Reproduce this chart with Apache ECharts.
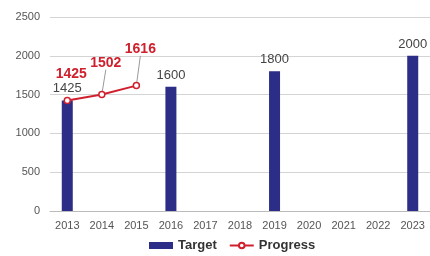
<!DOCTYPE html>
<html>
<head>
<meta charset="utf-8">
<script src="https://cdn.jsdelivr.net/npm/echarts@6/dist/echarts.min.js"></script>
<style>
  html, body { margin: 0; padding: 0; background: #fff; }
  #chart { width: 430px; height: 256px; }
</style>
</head>
<body>
<div id="chart"></div>
<script>
// chart data
var years = ['2013', '2014', '2015', '2016', '2017', '2018', '2019', '2020', '2021', '2022', '2023'];
var target = [1425, null, null, 1600, null, null, 1800, null, null, null, 2000];
var progress = [1425, 1502, 1616, null, null, null, null, null, null, null, null];

var chart = echarts.init(document.getElementById('chart'));

// label offsets for the red progress numbers
var progressShift = [[4, -11], [4, -16], [4, -21]];

chart.setOption({
    animation: false,
    textStyle: { fontFamily: 'Liberation Sans, Arial, sans-serif' },
    grid: { left: 50, right: -2, top: 17, bottom: 45 },
    legend: {
        bottom: -1,
        left: 144,
        itemGap: 12,
        itemWidth: 24,
        itemHeight: 7,
        textStyle: { fontSize: 13, fontWeight: 'bold', color: '#333' },
        data: [
            { name: 'Target', icon: 'rect' },
            { name: 'Progress' }
        ]
    },
    xAxis: {
        type: 'category',
        data: years,
        axisTick: { show: false },
        axisLine: { lineStyle: { color: '#bbb' } },
        axisLabel: { color: '#555', fontSize: 11, margin: 9 }
    },
    yAxis: {
        type: 'value',
        min: 0,
        max: 2500,
        interval: 500,
        axisLabel: { color: '#555', fontSize: 11, margin: 10, formatter: function (v) { return String(v); } },
        splitLine: { lineStyle: { color: '#d4d4d4' } }
    },
    series: [
        {
            name: 'Target',
            type: 'bar',
            barWidth: 11,
            data: target,
            itemStyle: { color: '#2b2d86' },
            label: { show: true, position: 'top', color: '#444', fontSize: 13, distance: 5 }
        },
        {
            name: 'Progress',
            type: 'line',
            data: progress.map(function (v, i) {
                return i === 0 ? { value: v, labelLine: { show: false } } : v;
            }),
            symbol: 'circle',
            symbolSize: 6,
            showSymbol: true,
            lineStyle: { color: '#d0202e', width: 2 },
            itemStyle: { color: '#fff', borderColor: '#d0202e', borderWidth: 1.5 },
            label: { show: true, position: 'top', color: '#d0202e', fontSize: 14, fontWeight: 'bold' },
            labelLine: { show: true, lineStyle: { color: '#999', width: 1 } },
            labelLayout: function (p) {
                var s = progressShift[p.dataIndex] || [0, 0];
                return { dx: s[0], dy: s[1] };
            },
            z: 3
        }
    ]
});
</script>
</body>
</html>
